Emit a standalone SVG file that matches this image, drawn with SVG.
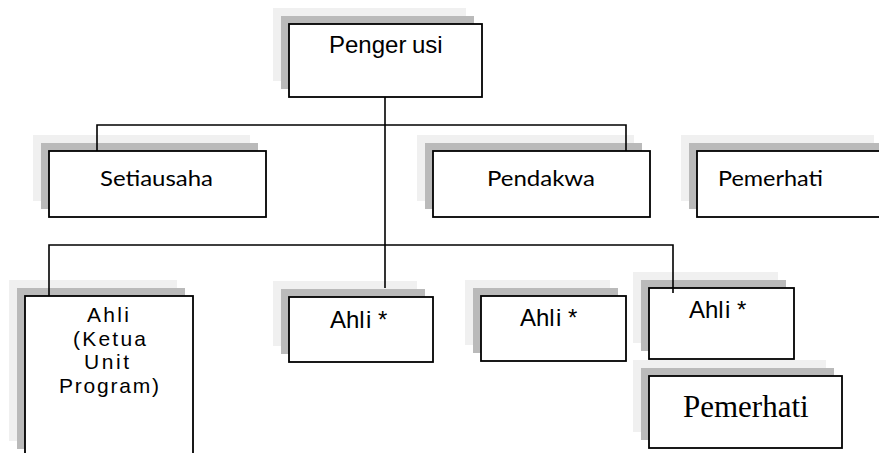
<svg xmlns="http://www.w3.org/2000/svg" width="879" height="453" viewBox="0 0 879 453">
<style>
.bg{fill:#ffffff}
.s1{fill:#f0f0f0}
.s2{fill:#bababa}
.box{fill:#ffffff;stroke:#000000;stroke-width:1.8}
.ar{font-family:"Liberation Sans",Arial,sans-serif;font-size:24px;fill:#000}
.ar2{font-family:"Liberation Sans",Arial,sans-serif;font-size:21px;fill:#000}
.fu{font-family:Lato,"DejaVu Sans",sans-serif;font-size:21px;fill:#000}
.tm{font-family:"Liberation Serif","Times New Roman",serif;font-size:31px;fill:#000}
.ln{fill:none;stroke:#000000;stroke-width:1.6}
</style>
<rect class="bg" x="0" y="0" width="879" height="453"/>

<g id="pengerusi">
<rect class="s1" x="273" y="8" width="193" height="73"/>
<rect class="s2" x="281" y="16" width="193" height="73"/>
<rect class="box" x="289" y="24" width="193" height="73"/>
<text class="ar" x="329" y="53">Penger<tspan x="412">usi</tspan></text>
</g>

<g id="setiausaha">
<rect class="s1" x="33" y="135" width="217" height="66"/>
<rect class="s2" x="41" y="143" width="217" height="66"/>
<rect class="box" x="49" y="151" width="217" height="66"/>
<text class="fu" x="100" y="186" textLength="113" lengthAdjust="spacingAndGlyphs">Setiausaha</text>
</g>

<g id="pendakwa">
<rect class="s1" x="417" y="135" width="217" height="66"/>
<rect class="s2" x="425" y="143" width="217" height="66"/>
<rect class="box" x="433" y="151" width="217" height="66"/>
<text class="fu" x="487" y="186" textLength="108" lengthAdjust="spacingAndGlyphs">Pendakwa</text>
</g>

<g id="pemerhati1">
<rect class="s1" x="681" y="135" width="193" height="66"/>
<rect class="s2" x="689" y="143" width="193" height="66"/>
<rect class="box" x="697" y="151" width="193" height="66"/>
<text class="fu" x="718" y="186" textLength="105" lengthAdjust="spacingAndGlyphs">Pemerhati</text>
</g>

<g id="ahli-ketua">
<rect class="s1" x="9" y="280" width="168" height="161"/>
<rect class="s2" x="17" y="288" width="168" height="161"/>
<rect class="box" x="25" y="296" width="168" height="161"/>
<text class="ar2" x="87" y="322" textLength="42" lengthAdjust="spacing">Ahli</text>
<text class="ar2" x="73" y="345.5" textLength="73" lengthAdjust="spacing">(Ketua</text>
<text class="ar2" x="84" y="369" textLength="45" lengthAdjust="spacing">Unit</text>
<text class="ar2" x="59" y="392.5" textLength="100" lengthAdjust="spacing">Program)</text>
</g>

<g id="ahli2">
<rect class="s1" x="273" y="281" width="144" height="65"/>
<rect class="s2" x="281" y="289" width="144" height="65"/>
<rect class="box" x="289" y="297" width="144" height="65"/>
<text class="ar" x="330" y="328">Ahl<tspan x="366">i *</tspan></text>
</g>

<g id="ahli3">
<rect class="s1" x="465" y="280" width="145" height="65"/>
<rect class="s2" x="473" y="288" width="145" height="65"/>
<rect class="box" x="481" y="296" width="145" height="65"/>
<text class="ar" x="520" y="326">Ahl<tspan x="556">i *</tspan></text>
</g>

<g id="ahli4">
<rect class="s1" x="633" y="272" width="145" height="71"/>
<rect class="s2" x="641" y="280" width="145" height="71"/>
<rect class="box" x="649" y="288" width="145" height="71"/>
<text class="ar" x="689" y="318">Ahl<tspan x="725">i *</tspan></text>
</g>

<g id="pemerhati2">
<rect class="s1" x="633" y="360" width="193" height="72"/>
<rect class="s2" x="641" y="368" width="193" height="72"/>
<rect class="box" x="649" y="376" width="193" height="72"/>
<text class="tm" x="683" y="417">Pemerhati</text>
</g>

<g id="connectors">
<path class="ln" d="M385 97 V288"/>
<path class="ln" d="M97 151 V125 H626 V151"/>
<path class="ln" d="M49 296 V245 H673 V293"/>
</g>
</svg>
